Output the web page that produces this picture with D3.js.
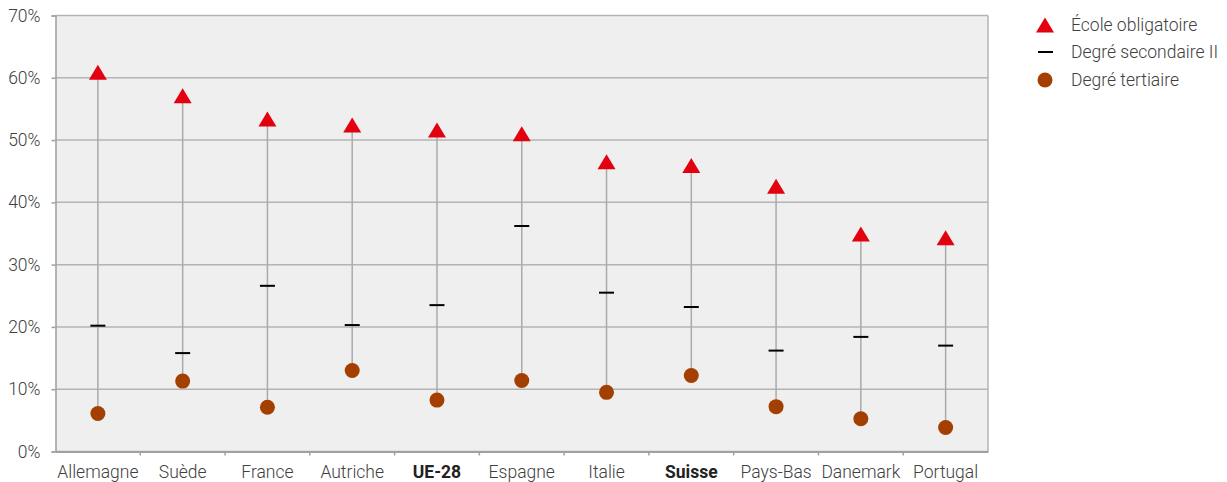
<!DOCTYPE html>
<html><head><meta charset="utf-8">
<script src="https://cdn.jsdelivr.net/npm/d3@7"></script>
<style>
body{margin:0;background:#fff;}
text{font-family:Roboto, "Noto Sans", sans-serif;}
</style></head>
<body><svg id="c" width="1227" height="482"></svg>
<script>
const categories = ["Allemagne","Suède","France","Autriche","UE-28","Espagne","Italie","Suisse","Pays-Bas","Danemark","Portugal"];
const boldCategories = ["UE-28","Suisse"];
const ecoleObligatoire = [60.9,57.1,53.4,52.4,51.6,51.0,46.5,45.9,42.6,34.9,34.3];
const secondaireII = [20.2,15.8,26.6,20.3,23.5,36.2,25.5,23.2,16.2,18.4,17.0];
const tertiaire = [6.1,11.3,7.1,13.0,8.25,11.4,9.5,12.2,7.2,5.25,3.85];
const yTicks = [0,10,20,30,40,50,60,70];
const seriesNames = ["École obligatoire","Degré secondaire II","Degré tertiaire"];

const svg = d3.select("#c");
const m = {l:55.5, t:15.5, r:988, b:451.5};
const x = d3.scaleBand().domain(categories).range([m.l, m.r]);
const y = d3.scaleLinear().domain([0,70]).range([m.b, m.t]);
const red = "#e3000f", brown = "#a33f00", grid = "#b4b4b4", txt = "#404040";
const fs = "17.5px", fw = 300;

svg.append("rect").attr("x",m.l).attr("y",m.t).attr("width",m.r-m.l).attr("height",m.b-m.t).attr("fill","#efefef");

// gridlines
svg.append("g").selectAll("line").data(yTicks).join("line")
  .attr("x1",m.l).attr("x2",m.r).attr("y1",d=>y(d)).attr("y2",d=>y(d))
  .attr("stroke",grid).attr("stroke-width",1.5);
// right border
svg.append("line").attr("x1",m.r).attr("x2",m.r).attr("y1",m.t).attr("y2",m.b).attr("stroke",grid).attr("stroke-width",1.5);

// y axis
const yAxis = svg.append("g").attr("transform",`translate(${m.l},0)`)
  .call(d3.axisLeft(y).tickValues(yTicks).tickFormat(d=>d+"%").tickSize(4).tickPadding(11));
yAxis.select(".domain").attr("stroke","#a0a0a0").attr("stroke-width",1.5);
yAxis.selectAll(".tick line").attr("stroke","#a0a0a0").attr("stroke-width",1.5);
yAxis.selectAll(".tick text").attr("fill",txt).style("font-size",fs).style("font-weight",fw);

// x axis
const xAxis = svg.append("g").attr("transform",`translate(0,${m.b})`)
  .call(d3.axisBottom(x).tickSize(0).tickPadding(14));
xAxis.select(".domain").attr("stroke","#a0a0a0").attr("stroke-width",2);
xAxis.selectAll(".tick text").attr("fill",d=>boldCategories.includes(d)?"#222":txt)
  .style("font-size",fs).style("font-weight",d=>boldCategories.includes(d)?"bold":fw);
// x tick marks at band boundaries
svg.append("g").selectAll("line").data(categories.slice(1)).join("line")
  .attr("x1",d=>x(d)).attr("x2",d=>x(d)).attr("y1",m.b).attr("y2",m.b+4)
  .attr("stroke","#a0a0a0").attr("stroke-width",1.5);

const cx = d=>x(d)+x.bandwidth()/2;
// stems
svg.append("g").selectAll("line").data(categories).join("line")
  .attr("x1",cx).attr("x2",cx)
  .attr("y1",(d,i)=>y(tertiaire[i])).attr("y2",(d,i)=>y(ecoleObligatoire[i]))
  .attr("stroke","#aaaaaa").attr("stroke-width",1.5);

// secondary dashes
svg.append("g").selectAll("line").data(categories).join("line")
  .attr("x1",d=>cx(d)-7.5).attr("x2",d=>cx(d)+7.5)
  .attr("y1",(d,i)=>y(secondaireII[i])).attr("y2",(d,i)=>y(secondaireII[i]))
  .attr("stroke","#000").attr("stroke-width",2);

// circles
svg.append("g").selectAll("circle").data(categories).join("circle")
  .attr("cx",cx).attr("cy",(d,i)=>y(tertiaire[i])).attr("r",7.5).attr("fill",brown);

// triangles
const tri = (px,py)=>`M${px-9},${py+7.5}L${px+9},${py+7.5}L${px},${py-7.5}Z`;
svg.append("g").selectAll("path").data(categories).join("path")
  .attr("d",(d,i)=>tri(cx(d),y(ecoleObligatoire[i]))).attr("fill",red);

// legend
const lg = svg.append("g");
const ly = [25,52,80];
lg.append("path").attr("d",tri(1045,ly[0])).attr("fill",red);
lg.append("line").attr("x1",1038).attr("x2",1053).attr("y1",ly[1]).attr("y2",ly[1]).attr("stroke","#000").attr("stroke-width",2);
lg.append("circle").attr("cx",1045).attr("cy",ly[2]).attr("r",7.5).attr("fill",brown);
lg.selectAll("text").data(seriesNames).join("text")
  .attr("x",1071).attr("y",(d,i)=>ly[i]).attr("dy","0.35em")
  .attr("fill",txt).style("font-size",fs).style("font-weight",fw).text(d=>d);
</script></body></html>
